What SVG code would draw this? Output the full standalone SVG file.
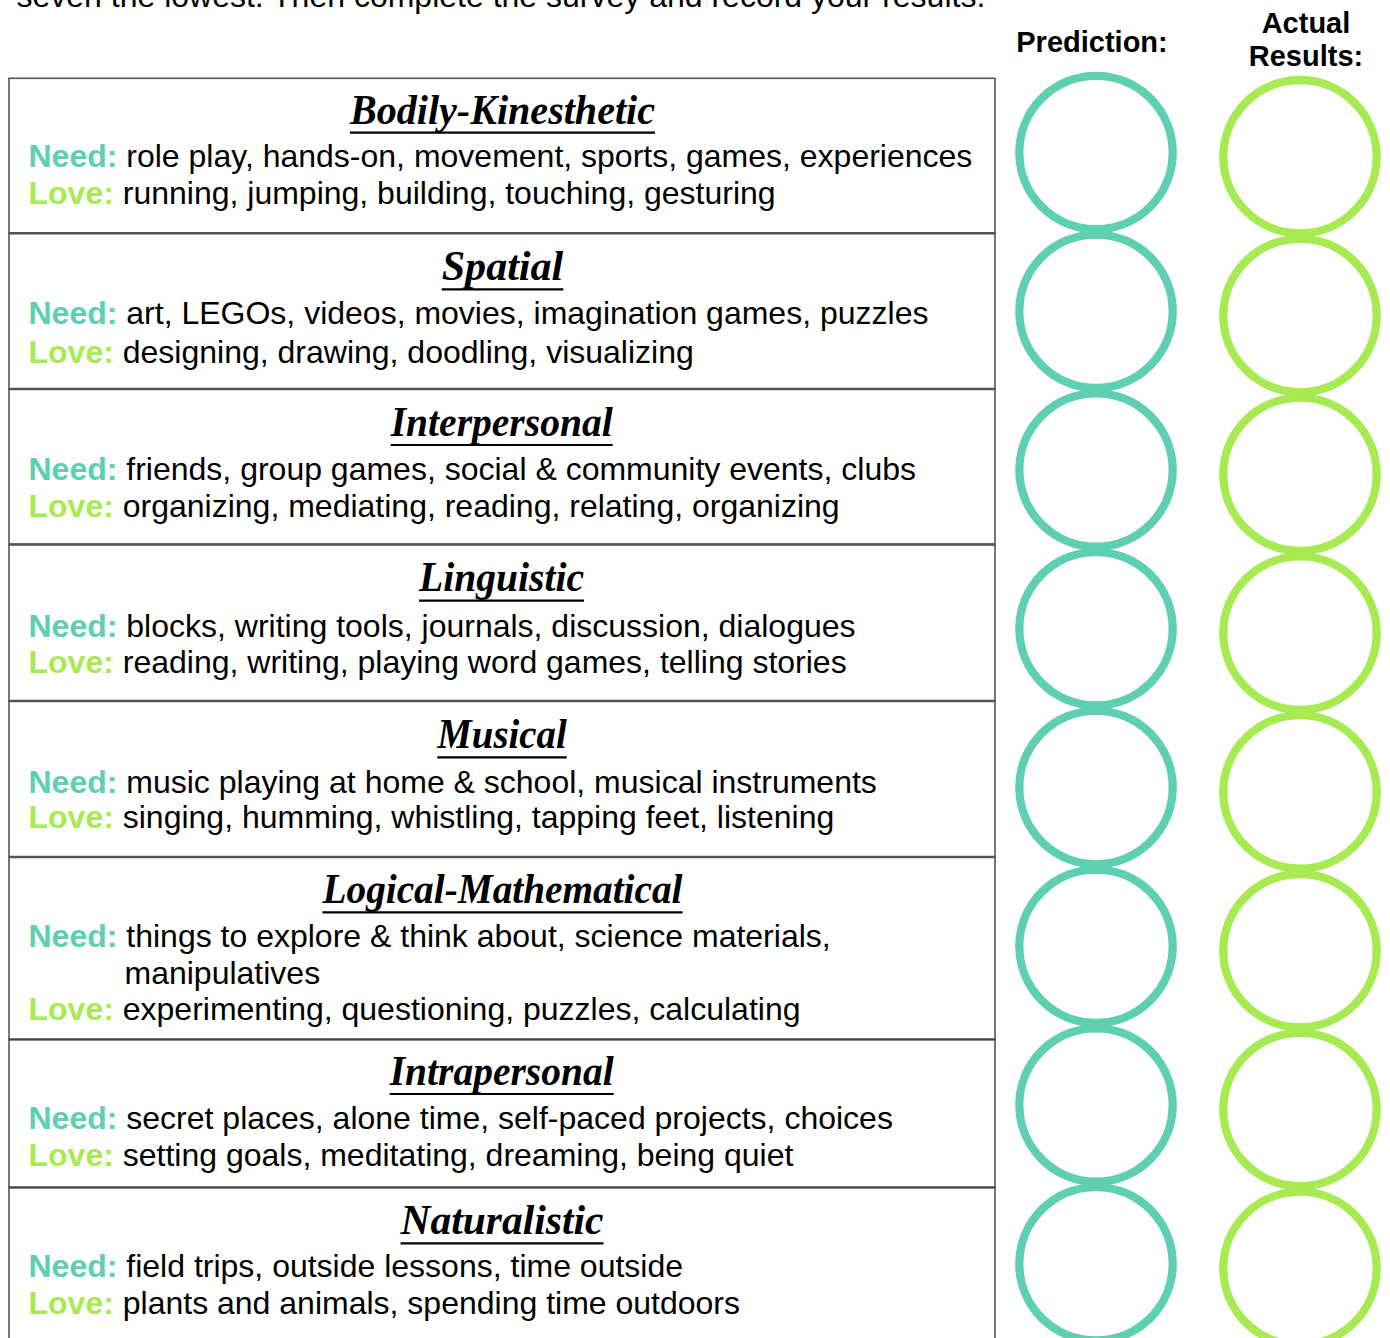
<svg xmlns="http://www.w3.org/2000/svg" width="1390" height="1338" viewBox="0 0 1390 1338">
<style>
.bg{fill:#ffffff}
.row{fill:#ffffff;stroke:#555555;stroke-width:1.6}
.sep{stroke:#555555;stroke-width:2.6}
.sep2{stroke:#444444;stroke-width:2}
.intro{font-family:"Liberation Sans",Arial,sans-serif;font-size:32px;fill:#000000}
.hdr{font-family:"Liberation Sans",Arial,sans-serif;font-size:29px;font-weight:bold;fill:#000000;text-anchor:middle}
.title{font-family:"Liberation Serif","DejaVu Serif",serif;font-size:42px;font-weight:bold;font-style:italic;fill:#000000;text-anchor:middle}
.uline{stroke:#000000;stroke-width:2.2}
.body{font-family:"Liberation Sans",Arial,sans-serif;font-size:32px;fill:#000000}
.need{font-weight:bold;fill:#5ECFB1}
.love{font-weight:bold;fill:#A8EA52}
.pred{fill:none;stroke:#5ECFB1;stroke-width:8.3}
.act{fill:none;stroke:#A8EA52;stroke-width:8.3}
</style>
<rect class="bg" x="0" y="0" width="1390" height="1338"/>
<text class="intro" x="16.5" y="6.5">seven the lowest.  Then complete the survey and record your results.</text>
<text class="hdr" x="1092" y="51.7">Prediction:</text>
<text class="hdr" x="1306" y="33.3">Actual</text>
<text class="hdr" x="1306" y="66">Results:</text>

<g id="row-bodily">
<rect class="row" x="9" y="78.3" width="986" height="154.7"/>
<text class="title" x="502.5" y="123.5" textLength="305" lengthAdjust="spacingAndGlyphs">Bodily-Kinesthetic</text>
<line class="uline" x1="350" y1="132.7" x2="655" y2="132.7"/>
<text class="body" x="28.5" y="166.7"><tspan class="need">Need:</tspan> role play, hands-on, movement, sports, games, experiences</text>
<text class="body" x="28.5" y="204"><tspan class="love">Love:</tspan> running, jumping, building, touching, gesturing</text>
</g>

<g id="row-spatial">
<rect class="row" x="9" y="233.3" width="986" height="155.7"/>
<text class="title" x="502.5" y="279.8" textLength="121.6" lengthAdjust="spacingAndGlyphs">Spatial</text>
<line class="uline" x1="441.7" y1="289.3" x2="563.3" y2="289.3"/>
<text class="body" x="28.5" y="324"><tspan class="need">Need:</tspan> art, LEGOs, videos, movies, imagination games, puzzles</text>
<text class="body" x="28.5" y="362.7"><tspan class="love">Love:</tspan> designing, drawing, doodling, visualizing</text>
</g>

<g id="row-interpersonal">
<rect class="row" x="9" y="389" width="986" height="155.5"/>
<text class="title" x="501.7" y="435.5" textLength="222" lengthAdjust="spacingAndGlyphs">Interpersonal</text>
<line class="uline" x1="390.7" y1="445" x2="612.7" y2="445"/>
<text class="body" x="28.5" y="480"><tspan class="need">Need:</tspan> friends, group games, social &amp; community events, clubs</text>
<text class="body" x="28.5" y="517"><tspan class="love">Love:</tspan> organizing, mediating, reading, relating, organizing</text>
</g>

<g id="row-linguistic">
<rect class="row" x="9" y="544.5" width="986" height="156.5"/>
<text class="title" x="501.5" y="591.2" textLength="165" lengthAdjust="spacingAndGlyphs">Linguistic</text>
<line class="uline" x1="419" y1="600.7" x2="584" y2="600.7"/>
<text class="body" x="28.5" y="636.7"><tspan class="need">Need:</tspan> blocks, writing tools, journals, discussion, dialogues</text>
<text class="body" x="28.5" y="673.3"><tspan class="love">Love:</tspan> reading, writing, playing word games, telling stories</text>
</g>

<g id="row-musical">
<rect class="row" x="9" y="701" width="986" height="156"/>
<text class="title" x="502" y="747.8" textLength="129.4" lengthAdjust="spacingAndGlyphs">Musical</text>
<line class="uline" x1="437.3" y1="757.3" x2="566.7" y2="757.3"/>
<text class="body" x="28.5" y="792.7"><tspan class="need">Need:</tspan> music playing at home &amp; school, musical instruments</text>
<text class="body" x="28.5" y="828.3"><tspan class="love">Love:</tspan> singing, humming, whistling, tapping feet, listening</text>
</g>

<g id="row-logical">
<rect class="row" x="9" y="857" width="986" height="182.5"/>
<text class="title" x="502.5" y="902.8" textLength="360" lengthAdjust="spacingAndGlyphs">Logical-Mathematical</text>
<line class="uline" x1="322.5" y1="912.3" x2="682.5" y2="912.3"/>
<text class="body" x="28.5" y="947.3"><tspan class="need">Need:</tspan> things to explore &amp; think about, science materials,</text>
<text class="body" x="124.5" y="984">manipulatives</text>
<text class="body" x="28.5" y="1020"><tspan class="love">Love:</tspan> experimenting, questioning, puzzles, calculating</text>
</g>

<g id="row-intrapersonal">
<rect class="row" x="9" y="1039.5" width="986" height="148"/>
<text class="title" x="501.7" y="1084.5" textLength="224" lengthAdjust="spacingAndGlyphs">Intrapersonal</text>
<line class="uline" x1="389.7" y1="1094" x2="613.7" y2="1094"/>
<text class="body" x="28.5" y="1129.3"><tspan class="need">Need:</tspan> secret places, alone time, self-paced projects, choices</text>
<text class="body" x="28.5" y="1166"><tspan class="love">Love:</tspan> setting goals, meditating, dreaming, being quiet</text>
</g>

<g id="row-naturalistic">
<rect class="row" x="9" y="1187.5" width="986" height="170"/>
<text class="title" x="502" y="1233.8" textLength="203" lengthAdjust="spacingAndGlyphs">Naturalistic</text>
<line class="uline" x1="400.5" y1="1243.3" x2="603.5" y2="1243.3"/>
<text class="body" x="28.5" y="1276.7"><tspan class="need">Need:</tspan> field trips, outside lessons, time outside</text>
<text class="body" x="28.5" y="1314"><tspan class="love">Love:</tspan> plants and animals, spending time outdoors</text>
</g>

<g id="row-separators">
<line class="sep" x1="9" y1="233.3" x2="995" y2="233.3"/>
<line class="sep" x1="9" y1="389" x2="995" y2="389"/>
<line class="sep" x1="9" y1="544.5" x2="995" y2="544.5"/>
<line class="sep" x1="9" y1="701" x2="995" y2="701"/>
<line class="sep" x1="9" y1="857" x2="995" y2="857"/>
<line class="sep2" x1="9" y1="1039.5" x2="995" y2="1039.5"/>
<line class="sep2" x1="9" y1="1187.5" x2="995" y2="1187.5"/>
</g>

<g id="prediction-circles">
<circle class="pred" cx="1096" cy="152.5" r="76.7"/>
<circle class="pred" cx="1096" cy="311.25" r="76.7"/>
<circle class="pred" cx="1096" cy="470" r="76.7"/>
<circle class="pred" cx="1096" cy="628.75" r="76.7"/>
<circle class="pred" cx="1096" cy="787.5" r="76.7"/>
<circle class="pred" cx="1096" cy="946.25" r="76.7"/>
<circle class="pred" cx="1096" cy="1105" r="76.7"/>
<circle class="pred" cx="1096" cy="1263.75" r="76.7"/>
</g>

<g id="actual-circles">
<circle class="act" cx="1300" cy="156.7" r="76.7"/>
<circle class="act" cx="1300" cy="315.5" r="76.7"/>
<circle class="act" cx="1300" cy="474.3" r="76.7"/>
<circle class="act" cx="1300" cy="633.1" r="76.7"/>
<circle class="act" cx="1300" cy="791.9" r="76.7"/>
<circle class="act" cx="1300" cy="950.7" r="76.7"/>
<circle class="act" cx="1300" cy="1109.5" r="76.7"/>
<circle class="act" cx="1300" cy="1268.3" r="76.7"/>
</g>

<g id="connectors"></g>
</svg>
